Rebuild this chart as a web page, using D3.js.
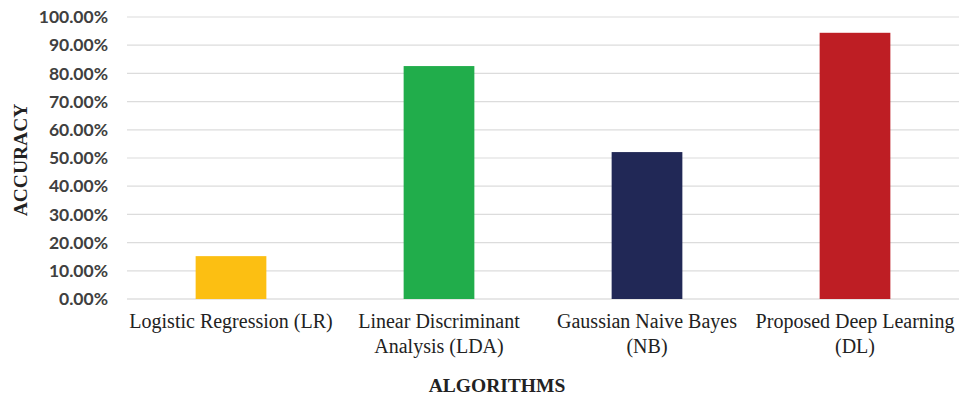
<!DOCTYPE html>
<html>
<head>
<meta charset="utf-8">
<script src="https://cdn.jsdelivr.net/npm/d3@7"></script>
<style>
  body { margin: 0; background: #fff; }
  svg { display: block; }
</style>
</head>
<body>
<div id="chart"></div>
<script>
// chart data
const categories = [
  'Logistic Regression (LR)',
  'Linear Discriminant\nAnalysis (LDA)',
  'Gaussian Naive Bayes\n(NB)',
  'Proposed Deep Learning\n(DL)'
];
const accuracy = [0.152, 0.826, 0.521, 0.944];
const barColors = ['#fcbf12', '#21ad4b', '#212856', '#be1e24'];
const yTicks = [0, 0.1, 0.2, 0.3, 0.4, 0.5, 0.6, 0.7, 0.8, 0.9, 1.0];

const width = 959, height = 397;
const margin = { top: 17, right: 0, bottom: 98, left: 127 };

const svg = d3.select('#chart').append('svg')
  .attr('width', width)
  .attr('height', height);

const x = d3.scaleBand()
  .domain(categories)
  .range([margin.left, width - margin.right])
  .paddingInner(0.66)
  .paddingOuter(0.33);

const y = d3.scaleLinear()
  .domain([0, 1])
  .range([height - margin.bottom, margin.top]);

// gridlines
svg.append('g')
  .selectAll('line')
  .data(yTicks)
  .enter()
  .append('line')
  .attr('x1', margin.left)
  .attr('x2', width - margin.right)
  .attr('y1', d => y(d))
  .attr('y2', d => y(d))
  .attr('stroke', d => d === 0 ? '#cfcfcf' : '#dcdcdc')
  .attr('stroke-width', 1.2);

// y tick labels
svg.append('g')
  .selectAll('text')
  .data(yTicks)
  .enter()
  .append('text')
  .attr('x', 108)
  .attr('y', d => y(d))
  .attr('dy', '0.35em')
  .attr('text-anchor', 'end')
  .style('font-family', 'Lato, sans-serif')
  .style('font-weight', 'bold')
  .style('font-size', '17.5px')
  .style('fill', '#404040')
  .text(d => d3.format('.2%')(d));

// bars
svg.append('g')
  .selectAll('rect')
  .data(accuracy)
  .enter()
  .append('rect')
  .attr('x', (d, i) => x(categories[i]))
  .attr('width', x.bandwidth())
  .attr('y', d => y(d))
  .attr('height', d => y(0) - y(d))
  .attr('fill', (d, i) => barColors[i]);

// category labels
const catLabels = svg.append('g')
  .selectAll('text')
  .data(categories)
  .enter()
  .append('text')
  .attr('text-anchor', 'middle')
  .attr('transform', d => 'translate(' + (x(d) + x.bandwidth() / 2) + ',328)')
  .style('font-family', '"Liberation Serif", "Times New Roman", serif')
  .style('font-size', '20px')
  .style('fill', '#222');

catLabels.each(function(d) {
  const lines = d.split('\n');
  d3.select(this).selectAll('tspan')
    .data(lines)
    .enter()
    .append('tspan')
    .attr('x', 0)
    .attr('y', (l, i) => i * 25)
    .text(l => l);
});

// axis titles
svg.append('text')
  .attr('x', 497)
  .attr('y', 392)
  .attr('text-anchor', 'middle')
  .style('font-family', '"Liberation Serif", "Times New Roman", serif')
  .style('font-weight', 'bold')
  .style('font-size', '19.5px')
  .style('fill', '#222')
  .text('ALGORITHMS');

svg.append('text')
  .attr('transform', 'translate(27,160) rotate(-90)')
  .attr('text-anchor', 'middle')
  .style('font-family', '"Liberation Serif", "Times New Roman", serif')
  .style('font-weight', 'bold')
  .style('font-size', '19.5px')
  .style('fill', '#222')
  .text('ACCURACY');
</script>
</body>
</html>
